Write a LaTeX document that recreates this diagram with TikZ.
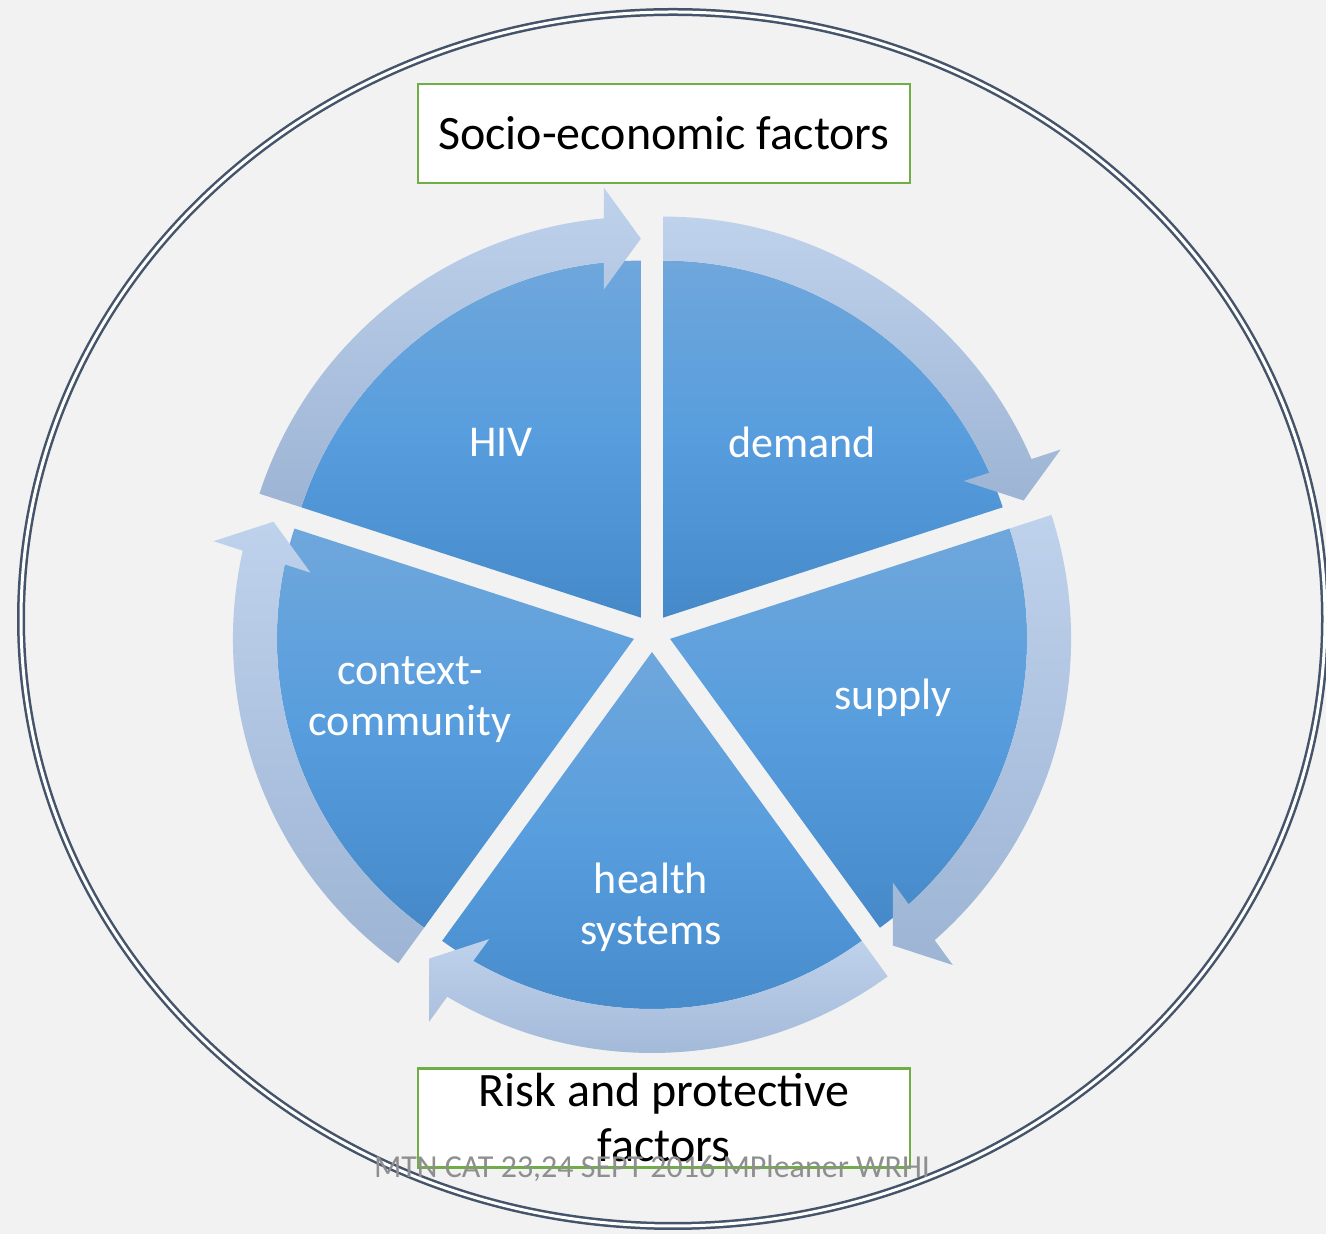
\documentclass[tikz,border=0pt]{standalone}
\usepackage{fontspec}
\setmainfont{Carlito}
\usepackage{tikz}
\usepackage{xcolor}
\usetikzlibrary{calc}

\definecolor{bgc}{HTML}{F2F2F2}
\definecolor{slate}{HTML}{44546A}
\definecolor{boxgreen}{HTML}{70AD47}
\definecolor{pietop}{HTML}{6FA7DC}
\definecolor{piemid}{HTML}{579DDD}
\definecolor{piebot}{HTML}{4589C9}
\definecolor{ringtop}{HTML}{BFD2EC}
\definecolor{ringbot}{HTML}{9DB4D4}
\definecolor{markgray}{HTML}{8F8F8F}

\begin{document}
\begin{tikzpicture}[x=1pt,y=1pt]
        \tikzstyle{every node}=[inner sep=0pt]
        \tikzstyle{piece}=[top color=pietop, bottom color=piebot, middle color=piemid, draw=none]
        \tikzstyle{ring}=[top color=ringtop, bottom color=ringbot, draw=none]
        \tikzstyle{lbl}=[text=white, align=center, font=\fontsize{44}{51}\selectfont]
        \tikzstyle{factorbox}=[draw=boxgreen, line width=2.5pt, fill=white, minimum width=492pt, minimum height=99pt, font=\fontsize{48}{55}\selectfont]
        \useasboundingbox (0,0) rectangle (1326,1234);
        \clip (0,0) rectangle (1326,1234);
        \fill[bgc] (0,0) rectangle (1326,1234);

        % outer frame
        \draw[slate, line width=2.5pt, double=white, double distance=3pt] (673,615) ellipse [x radius=652, y radius=607];

        \coordinate (c) at (652,601);
        \coordinate (p1) at ($(c)+(126:19)$);
        \coordinate (p2) at ($(c)+(54:19)$);
        \coordinate (p3) at ($(c)+(-18:19)$);
        \coordinate (p4) at ($(c)+(-90:19)$);
        \coordinate (p5) at ($(c)+(-162:19)$);

        % pie pieces
        \shade[piece] (p1) -- ($(p1)+(162:357)$) arc[start angle=162, end angle=90, radius=357] -- cycle;
        \shade[piece] (p2) -- ($(p2)+(90:357)$) arc[start angle=90, end angle=18, radius=357] -- cycle;
        \shade[piece] (p3) -- ($(p3)+(18:357)$) arc[start angle=18, end angle=-54, radius=357] -- cycle;
        \shade[piece] (p4) -- ($(p4)+(-54:357)$) arc[start angle=-54, end angle=-126, radius=357] -- cycle;
        \shade[piece] (p5) -- ($(p5)+(234:357)$) arc[start angle=234, end angle=162, radius=357] -- cycle;

        % arrows round the pie
        \shade[ring] ($(p1)+(162:357)$) arc[start angle=162, end angle=95.95, radius=357] -- ($(p1)+(96.44:330.1)$) -- ($(p1)+(90:379)$) -- ($(p1)+(94.92:431.6)$) -- ($(p1)+(95.29:401)$) arc[start angle=95.29, end angle=162, radius=401] -- cycle;
        \shade[ring] ($(p2)+(90:357)$) arc[start angle=90, end angle=23.95, radius=357] -- ($(p2)+(24.44:330.1)$) -- ($(p2)+(18:379)$) -- ($(p2)+(22.92:431.6)$) -- ($(p2)+(23.29:401)$) arc[start angle=23.29, end angle=90, radius=401] -- cycle;
        \shade[ring] ($(p3)+(18:357)$) arc[start angle=18, end angle=-48.05, radius=357] -- ($(p3)+(-47.56:330.1)$) -- ($(p3)+(-54:379)$) -- ($(p3)+(-49.08:431.6)$) -- ($(p3)+(-48.71:401)$) arc[start angle=-48.71, end angle=18, radius=401] -- cycle;
        \shade[ring] ($(p4)+(-54:357)$) arc[start angle=-54, end angle=-120.05, radius=357] -- ($(p4)+(-119.56:330.1)$) -- ($(p4)+(-126:379)$) -- ($(p4)+(-121.08:431.6)$) -- ($(p4)+(-120.71:401)$) arc[start angle=-120.71, end angle=-54, radius=401] -- cycle;
        \shade[ring] ($(p5)+(234:357)$) arc[start angle=234, end angle=167.95, radius=357] -- ($(p5)+(168.44:330.1)$) -- ($(p5)+(162:379)$) -- ($(p5)+(166.92:431.6)$) -- ($(p5)+(167.29:401)$) arc[start angle=167.29, end angle=234, radius=401] -- cycle;

        \node[lbl, anchor=base] (hiv) at (501,777) {HIV};
        \node[lbl, anchor=base] (demand) at (802,776) {demand};
        \node[lbl, anchor=base] (supply) at (893,524) {supply};
        \node[lbl] (context) at (410,534) {context-\\community};
        \node[lbl] (health) at (651,327) {health\\systems};

        \node[factorbox] (socio) at (664,1100.5) {Socio-economic factors};
        \node[factorbox] (risk) at (664,116) {};
        \node[align=center, font=\fontsize{48}{55}\selectfont] (risktext) at (risk.center) {Risk and protective\\factors};

        \node[anchor=base, text=markgray, font=\fontsize{32}{38}\selectfont] (mark) at (652,56) {MTN CAT 23,24 SEPT 2016 MPleaner WRHI};
\end{tikzpicture}
\end{document}
